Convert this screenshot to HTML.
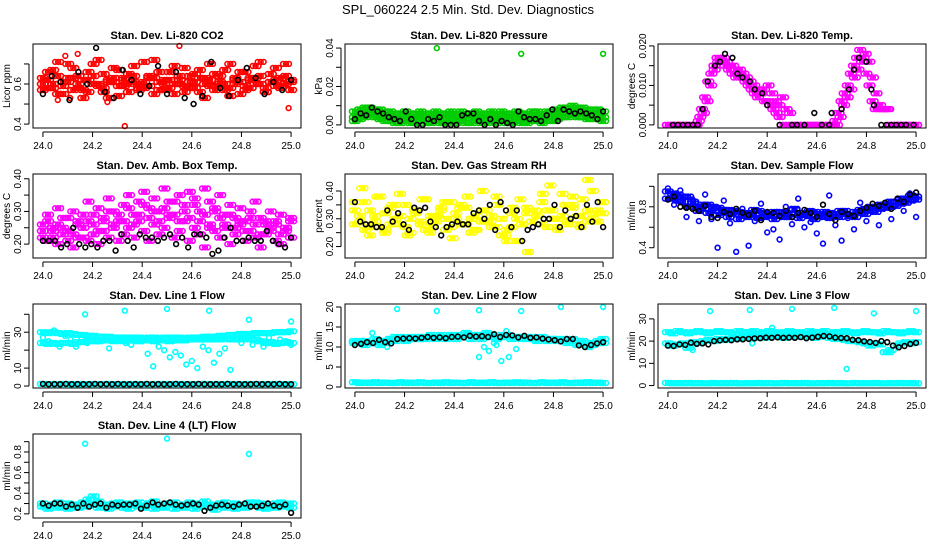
<!DOCTYPE html>
<html><head><meta charset="utf-8"><style>
html,body{margin:0;padding:0;background:#fff}
svg{display:block;font-family:"Liberation Sans",sans-serif}
</style></head><body>
<svg id="chart" width="936" height="540" viewBox="0 0 936 540" xmlns="http://www.w3.org/2000/svg">
<rect width="936" height="540" fill="#fff"/>
<text x="468" y="14" text-anchor="middle" font-size="13">SPL_060224  2.5 Min. Std. Dev. Diagnostics</text>
</svg>
<script>
// ---- data ----
const co2Red1=[0.63,0.58,0.67,0.55,0.61,0.70,0.57,0.64,0.53,0.66,0.60,0.72,0.56,0.62,0.68,0.54,0.59,0.65,0.61,0.57,0.71,0.63,0.55,0.66,0.60,0.58,0.69,0.62,0.56,0.64,0.61,0.67,0.53,0.59,0.65,0.60,0.57,0.70,0.62,0.55,0.66,0.58,0.63,0.71,0.56,0.61,0.68,0.59,0.64,0.57];
const co2Red2=[0.57,0.66,0.60,0.71,0.55,0.63,0.68,0.58,0.62,0.56,0.70,0.59,0.65,0.53,0.61,0.67,0.63,0.56,0.69,0.60,0.58,0.64,0.72,0.57,0.62,0.66,0.55,0.60,0.68,0.58,0.65,0.56,0.63,0.70,0.59,0.61,0.67,0.54,0.60,0.66,0.57,0.63,0.69,0.60,0.56,0.65,0.62,0.58,0.70,0.61];
const co2Red3=[0.60,0.62,0.58,0.64,0.59,0.61,0.63,0.60,0.57,0.62,0.64,0.60,0.58,0.61,0.63,0.59,0.62,0.60,0.64,0.58,0.61,0.59,0.63,0.61,0.57,0.62,0.60,0.64,0.59,0.61,0.58,0.63,0.60,0.62,0.57,0.64,0.60,0.58,0.63,0.61,0.59,0.62,0.60,0.64,0.58,0.61,0.59,0.63,0.60,0.62];
const co2OutX=[24.33,24.55,24.99,24.06,24.11,24.26,24.09,24.14];
const co2OutY=[0.39,0.79,0.48,0.52,0.53,0.51,0.74,0.75];
const co2Black=[0.55,0.64,0.61,0.52,0.66,0.60,0.78,0.56,0.53,0.67,0.62,0.55,0.59,0.69,0.55,0.66,0.53,0.50,0.54,0.71,0.58,0.54,0.62,0.68,0.63,0.55,0.61,0.57,0.62];

const presG1=[0.007,0.008,0.009,0.009,0.008,0.008,0.007,0.007,0.006,0.006,0.007,0.006,0.006,0.007,0.006,0.006,0.007,0.006,0.006,0.007,0.006,0.007,0.006,0.006,0.007,0.006,0.006,0.007,0.006,0.007,0.006,0.006,0.007,0.006,0.006,0.007,0.007,0.006,0.007,0.007,0.008,0.009,0.009,0.010,0.009,0.009,0.008,0.008,0.008,0.007];
const presG2=[0.004,0.005,0.006,0.007,0.006,0.005,0.004,0.004,0.003,0.003,0.004,0.003,0.003,0.004,0.003,0.003,0.004,0.003,0.003,0.004,0.003,0.004,0.003,0.003,0.004,0.003,0.003,0.004,0.003,0.004,0.003,0.003,0.004,0.003,0.003,0.004,0.004,0.003,0.004,0.004,0.005,0.006,0.006,0.007,0.006,0.006,0.005,0.005,0.005,0.004];
const presG3=[0.002,0.003,0.004,0.005,0.004,0.003,0.002,0.002,0.001,0.001,0.002,0.001,0.001,0.002,0.001,0.001,0.002,0.001,0.001,0.002,0.001,0.002,0.001,0.001,0.002,0.001,0.001,0.002,0.001,0.002,0.001,0.001,0.002,0.001,0.001,0.002,0.002,0.001,0.002,0.002,0.003,0.004,0.004,0.005,0.004,0.004,0.003,0.003,0.003,0.002];
const presOutX=[24.33,24.67,25.0];
const presOutY=[0.040,0.037,0.037];
const presBlack=[0.003,0.006,0.005,0.009,0.007,0.006,0.004,0.003,0.002,0.007,0.003,0.000,0.000,0.003,0.002,0.004,0.000,0.000,0.000,0.005,0.006,0.006,0.002,0.000,0.003,0.000,0.002,0.001,0.000,0.007,0.004,0.003,0.003,0.002,0.005,0.008,0.002,0.008,0.007,0.006,0.007,0.006,0.005,0.003,0.007];

const tempMag=[0,0,0,0,0,0,0,0,0,0,0.001,0.004,0.007,0.011,0.013,0.015,0.017,0.016,0.017,0.016,0.015,0.015,0.014,0.013,0.012,0.011,0.010,0.009,0.008,0.007,0.008,0.009,0.006,0.005,0.004,0.003,0.002,0,0,0,0,0,0,0,0,0,0,0,0,0,0,0,0,0,0.001,0.003,0.006,0.008,0.010,0.013,0.015,0.017,0.019,0.017,0.013,0.010,0.006,0.004,0.004,0.004,0.004,0.004,0,0,0,0,0,0,0,0,0];
const tempMag2=[0,0,0,0,0,0,0,0,0,0.002,0.003,0.006,0.010,0.014,0.016,0.016,0.015,0.014,0.013,0.012,0.014,0.013,0.012,0.011,0.010,0.009,0.008,0.006,0.010,0.008,0.006,0.005,0.007,0.004,0.003,0,0,0,0,0,0,0,0,0,0,0,0,0,0.002,0.005,0.007,0.009,0.012,0.014,0.016,0.018,0.016,0.012,0.008,0.005,0.004,0.004,0,0,0,0,0,0,0,0];
const tempBlackX=[24.02,24.04,24.06,24.08,24.10,24.12,24.14,24.16,24.19,24.21,24.23,24.26,24.28,24.30,24.33,24.35,24.38,24.40,24.45,24.50,24.52,24.55,24.59,24.62,24.65,24.66,24.70,24.73,24.75,24.77,24.80,24.82,24.83,24.86,24.88,24.90,24.92,24.94,24.96,24.99];
const tempBlackY=[0,0,0,0,0,0,0.004,0.011,0.015,0.016,0.018,0.017,0.013,0.012,0.011,0.009,0.008,0.005,0,0,0,0,0.003,0,0,0.003,0.004,0.009,0.014,0.017,0.016,0.009,0.005,0,0,0,0,0,0,0];

const ambUp=[0.26,0.29,0.25,0.31,0.28,0.24,0.30,0.27,0.29,0.33,0.26,0.31,0.28,0.34,0.30,0.27,0.32,0.35,0.29,0.33,0.36,0.31,0.34,0.30,0.37,0.33,0.29,0.35,0.32,0.36,0.34,0.30,0.37,0.33,0.31,0.35,0.29,0.32,0.28,0.31,0.27,0.30,0.33,0.28,0.26,0.30,0.27,0.29,0.25,0.28];
const ambMid=[0.24,0.27,0.22,0.26,0.25,0.28,0.23,0.26,0.22,0.27,0.29,0.24,0.27,0.30,0.25,0.29,0.27,0.31,0.26,0.29,0.32,0.28,0.30,0.27,0.31,0.29,0.33,0.27,0.30,0.28,0.32,0.27,0.29,0.25,0.30,0.28,0.26,0.29,0.25,0.27,0.24,0.28,0.26,0.23,0.27,0.24,0.26,0.23,0.25,0.27];
const ambLow=[0.22,0.21,0.24,0.20,0.23,0.21,0.19,0.22,0.25,0.21,0.23,0.20,0.24,0.22,0.26,0.21,0.23,0.25,0.22,0.27,0.24,0.21,0.26,0.23,0.25,0.28,0.22,0.24,0.27,0.21,0.25,0.23,0.19,0.26,0.24,0.22,0.25,0.20,0.23,0.26,0.21,0.24,0.22,0.19,0.23,0.25,0.21,0.20,0.24,0.22];
const ambBlack=[0.21,0.21,0.21,0.19,0.20,0.25,0.20,0.19,0.20,0.19,0.21,0.21,0.18,0.23,0.21,0.19,0.23,0.22,0.22,0.21,0.22,0.23,0.20,0.22,0.19,0.23,0.23,0.22,0.17,0.18,0.22,0.25,0.21,0.21,0.22,0.21,0.21,0.24,0.21,0.20,0.19,0.22];

const rhY1=[0.33,0.29,0.36,0.27,0.31,0.38,0.26,0.34,0.30,0.28,0.35,0.25,0.32,0.29,0.37,0.27,0.31,0.33,0.26,0.36,0.30,0.28,0.34,0.25,0.31,0.29,0.33,0.27,0.38,0.30,0.26,0.32,0.22,0.28,0.34,0.29,0.31,0.36,0.27,0.33,0.30,0.39,0.28,0.35,0.31,0.37,0.29,0.40,0.33,0.36];
const rhY2=[0.28,0.31,0.26,0.33,0.29,0.27,0.32,0.28,0.35,0.31,0.27,0.30,0.33,0.28,0.26,0.31,0.29,0.34,0.30,0.27,0.32,0.35,0.28,0.30,0.26,0.33,0.29,0.31,0.27,0.24,0.22,0.27,0.30,0.28,0.32,0.29,0.31,0.28,0.33,0.30,0.27,0.31,0.29,0.34,0.28,0.31,0.33,0.30,0.29,0.32];
const rhY3=[0.36,0.41,0.24,0.38,0.25,0.35,0.39,0.24,0.33,0.37,0.25,0.31,0.36,0.23,0.34,0.38,0.26,0.40,0.29,0.35,0.24,0.34,0.37,0.18,0.33,0.39,0.42,0.26,0.35,0.38,0.27,0.44,0.32,0.36];
const rhBlack=[0.36,0.29,0.28,0.28,0.27,0.27,0.33,0.29,0.32,0.28,0.26,0.34,0.33,0.34,0.29,0.27,0.24,0.27,0.28,0.29,0.28,0.28,0.32,0.33,0.30,0.35,0.26,0.36,0.33,0.27,0.33,0.22,0.26,0.27,0.28,0.30,0.30,0.35,0.27,0.33,0.30,0.31,0.27,0.35,0.29,0.36,0.27];

const flowB1=[0.95,0.88,0.92,0.85,0.90,0.83,0.80,0.78,0.82,0.76,0.79,0.74,0.77,0.73,0.75,0.71,0.74,0.72,0.76,0.70,0.73,0.75,0.71,0.74,0.70,0.77,0.72,0.74,0.71,0.75,0.73,0.70,0.74,0.72,0.76,0.73,0.71,0.75,0.74,0.78,0.76,0.80,0.78,0.82,0.80,0.85,0.83,0.88,0.86,0.90];
const flowB2=[0.88,0.93,0.86,0.90,0.80,0.85,0.76,0.82,0.74,0.80,0.72,0.77,0.70,0.76,0.68,0.73,0.70,0.77,0.69,0.74,0.71,0.68,0.75,0.70,0.73,0.78,0.69,0.72,0.76,0.68,0.71,0.75,0.69,0.73,0.70,0.76,0.72,0.70,0.77,0.73,0.80,0.75,0.82,0.79,0.85,0.81,0.88,0.84,0.91,0.87];
const flowB3=[0.98,0.82,0.96,0.70,0.87,0.66,0.92,0.68,0.40,0.86,0.64,0.36,0.78,0.42,0.66,0.83,0.55,0.58,0.48,0.80,0.63,0.88,0.60,0.65,0.54,0.44,0.91,0.62,0.47,0.69,0.58,0.84,0.66,0.79,0.62,0.81,0.68,0.87,0.76,0.93,0.70];
const flowBlack=[0.87,0.90,0.80,0.79,0.78,0.76,0.81,0.70,0.69,0.75,0.73,0.78,0.74,0.72,0.76,0.67,0.75,0.74,0.71,0.76,0.70,0.74,0.77,0.74,0.70,0.82,0.73,0.67,0.75,0.73,0.71,0.76,0.79,0.83,0.81,0.84,0.78,0.88,0.85,0.92,0.94];

const baseOnes=[1.2,1,1.1,1,1.2,1,1.1,1,1,1.2,1,1.1,1,1.2,1,1,1.1,1,1.2,1,1.1,1,1,1.2,1,1.1,1,1.2,1,1,1.1,1,1.2,1,1.1,1,1,1.2,1,1.1,1,1.2,1,1,1.1,1,1.2,1,1.1,1];
const outTimes=[24.17,24.33,24.5,24.67,24.83,25.0];

const l1Top=[30,29.5,30,29.5,29,29.5,29,28.5,28.5,28,28,27.5,27.5,27.5,27,27,27,27,27,27,26.5,27,27,26.5,27,27,27,27,26.5,27,27,27,27.5,27.5,27.5,28,28,28.5,28.5,29,29,29,29.5,29.5,29.5,29.5,30,30,30,30.5];
const l1Low=[24,23.5,24,23.5,24,24,23.5,24.5,24.5,25,25,25,25.5,25.5,25,25.5,25,25.5,25.5,25,25.5,25.5,25,25.5,25.5,25,25.5,25.5,25.5,26,26,26,26,26,26,26,26.5,26,26,26,26.5,26,26,25,24,24.5,23.5,24,24.5,24];
const l1Scatter=[27,25,31,22,28,26,22,27,24,28,25,27,21,26,27,24,23,27,25,18,11,22,20,16,19,17,12,14,10,22,20,13,18,21,9,26,24,28,23,25,22,27,24,26,25,23];
const l1OutY=[40,42,43,42,37,36];

const l2Band1=[11.5,11,11.5,11,12,11.5,11,12,12.5,12,12,12.5,12,12.5,12.5,12.5,12.5,13,12.5,12.5,13,12.5,13,13,12.5,13,12.5,13,12.5,13,12.5,12.5,12.5,12.5,12,12.5,12,12,12,12,11.5,12,11.5,11.5,11,11,10.5,11,11.5,11];
const l2Band2=[11,11.5,10.5,11,11,10.5,11.5,12,11.5,12.5,11.5,12,12.5,12,12,13,12,12.5,12,13,12,12.5,13.5,12,13,12,13.5,12.5,12,12.5,13,12,12.5,12,12.5,12,11.5,12.5,11.5,12,12,11.5,11,12,10.5,11.5,10,10.5,11,12];
const l2LowX=[24.5,24.52,24.54,24.56,24.57,24.59,24.61,24.62,24.65,24.07,24.13];
const l2LowY=[7.5,10,9,11,10.5,6.5,14,7.5,9.5,13.5,10];
const l2OutY=[19.5,19,19.2,19,20,20];
const l2Black=[10.5,10.8,11.2,11,11.8,11.2,10.9,12,12.1,12.2,12.1,12.3,12.5,12.3,12.4,12.2,12.5,12.6,12.4,12.8,12.6,12.7,12.5,13.2,12.5,13,12.9,12.4,12.8,12.3,12.4,12.1,11.9,11.7,11.4,12,12,10.4,10,10.5,10.9,11.2];

const l3Top=[24,23.5,24.5,24,23.5,24,24.5,24,23.5,24,24.5,24,24,23.5,24.5,24,24,24.5,23.5,24,24.5,24,23.5,24,24.5,24,24,23.5,24.5,24,24,24.5,23.5,24,24,24.5,24,23.5,24,24.5,24,24,23.5,24.5,24,24,23.5,24,24.5,24];
const l3Low=[19,18,18.5,19,17,19.5,19,20,20.5,20,21,20.5,21,21.5,21,21.5,22,21.5,22,21.5,22,22.5,22,21.5,22,22.5,22,22.5,22,21.5,22,22.5,21.5,21,21,20.5,20,20,19.5,19,18,19,18.5,15,16,18,19,19.5,19,19.5];
const l3OutX=[24.17,24.33,24.5,24.67,24.83,25.0,24.72,24.42,24.9,24.1,24.34];
const l3OutY=[33.5,34,34.5,35,32.5,33.5,7.5,26,15,16,19];
const l3Black=[18,17.8,18.5,18.3,19.3,18.8,19,18.5,20,20.3,20.6,20.4,20.8,20.8,21,21.2,21.3,21.6,21.5,21.7,21.5,21.6,21.5,21.8,21.3,21.6,22,22.3,22.1,21.6,21.4,21.3,20.6,20.4,19.9,19.6,19.2,20,19.5,18,17.2,17.8,18.7,19.2];

const l4Band1=[0.30,0.27,0.29,0.31,0.28,0.30,0.27,0.29,0.31,0.28,0.30,0.32,0.29,0.27,0.30,0.31,0.28,0.30,0.29,0.31,0.28,0.30,0.32,0.29,0.27,0.30,0.31,0.28,0.29,0.31,0.30,0.28,0.32,0.29,0.27,0.30,0.31,0.28,0.30,0.29,0.27,0.31,0.28,0.30,0.29,0.27,0.30,0.31,0.28,0.30];
const l4Band2=[0.27,0.25,0.28,0.26,0.27,0.25,0.29,0.26,0.27,0.34,0.37,0.26,0.28,0.25,0.27,0.29,0.26,0.25,0.28,0.27,0.26,0.28,0.25,0.27,0.26,0.29,0.25,0.27,0.26,0.28,0.25,0.27,0.29,0.26,0.24,0.27,0.26,0.28,0.25,0.27,0.26,0.28,0.31,0.26,0.25,0.27,0.26,0.28,0.27,0.26];
const l4OutX=[24.17,24.5,24.83];
const l4OutY=[0.88,0.93,0.78];
const l4Black=[0.30,0.28,0.30,0.30,0.27,0.29,0.26,0.30,0.27,0.29,0.30,0.26,0.29,0.28,0.29,0.29,0.30,0.25,0.28,0.31,0.29,0.30,0.31,0.29,0.28,0.29,0.30,0.29,0.23,0.26,0.28,0.29,0.28,0.27,0.29,0.30,0.27,0.27,0.28,0.30,0.28,0.27,0.29,0.21];

const xTicks=[24.0,24.2,24.4,24.6,24.8,25.0];
const xTickLabels=["24.0","24.2","24.4","24.6","24.8","25.0"];

// ---- drawing ----
const NS="http://www.w3.org/2000/svg";
const svg=document.getElementById('chart');
const COLS=[33,345,658], ROWS=[44,174,304,434], PW=268, PH=84;
// marker glyph: dense bands drawn as a small horizontal cluster of rings (style only)
const CLUSTER=[-3,0,3];
function mk(tag,attrs,parent){const e=document.createElementNS(NS,tag);for(const k in attrs)e.setAttribute(k,attrs[k]);(parent||svg).appendChild(e);return e;}
function even(n){const a=[];for(let i=0;i<n;i++)a.push(24.0+(n>1?i/(n-1):0));return a;}

function panel(p){
  const L=COLS[p.col],T=ROWS[p.row];
  const g=mk('g',{});
  
  
  const pad=0.04;
  const fx=v=>L+PW*pad/(1+2*pad)+ (PW/(1+2*pad))*(v-24);
  const fy=v=>T+PH-PH*pad/(1+2*pad)-(PH/(1+2*pad))*(v-p.ylim[0])/(p.ylim[1]-p.ylim[0]);
  p.series.forEach(s=>{
    const sg=mk('g',{fill:'none',stroke:s.c,'stroke-width':1.6},g);
    
    
    const X=s.x||even(s.y.length);
    const offs=(s.single||s.c==='#000')?[0]:CLUSTER;
    for(let i=0;i<s.y.length;i++){
      const cx=fx(X[i]), cy=fy(s.y[i]);
      offs.forEach(o=>{
        const c=mk('circle',{cx:(cx+o).toFixed(1),cy:cy.toFixed(1),r:2.4},sg);
        
        
      });
    }
  });
  const b=mk('rect',{x:L,y:T,width:PW,height:PH,fill:'none',stroke:'#000','stroke-width':1},g);
  
  
  const xa=mk('g',{},g);
  
  
  const by=T+PH;
  mk('line',{x1:fx(24),x2:fx(25),y1:by+4,y2:by+4,stroke:'#000'},xa);
  xTicks.forEach((v,i)=>{
    mk('line',{x1:fx(v),x2:fx(v),y1:by+4,y2:by+9,stroke:'#000'},xa);
    const t=mk('text',{x:fx(v),y:by+21,'text-anchor':'middle','font-size':10},xa);
    t.textContent=xTickLabels[i];
    
    
  });
  const ya=mk('g',{},g);
  
  
  const ax=L-4;
  mk('line',{x1:ax,x2:ax,y1:fy(p.yt[0]),y2:fy(p.yt[p.yt.length-1]),stroke:'#000'},ya);
  p.yt.forEach(v=>{mk('line',{x1:ax-5,x2:ax,y1:fy(v),y2:fy(v),stroke:'#000'},ya);});
  p.yl.forEach((v,i)=>{
    const yy=fy(v),xx=L-12;
    const t=mk('text',{x:xx,y:yy,'text-anchor':'middle','font-size':10,transform:`rotate(-90 ${xx} ${yy})`},ya);
    t.textContent=p.ylt[i];
    
    
  });
  const yt=mk('text',{x:L-23,y:T+PH/2,'text-anchor':'middle','font-size':10,transform:`rotate(-90 ${L-23} ${T+PH/2})`},g);
  yt.textContent=p.ylab;
  
  
  const tt=mk('text',{x:L+PW/2,y:T-5,'text-anchor':'middle','font-size':11,'font-weight':'bold'},g);
  tt.textContent=p.title;
  
  
}

panel({name:'co2',col:0,row:0,title:'Stan. Dev. Li-820 CO2',ylab:'Licor ppm',ylim:[0.396,0.784],yt:[0.4,0.5,0.6,0.7],yl:[0.4,0.6],ylt:['0.4','0.6'],
 series:[{n:'co2-red-a',c:'#ff0000',y:co2Red1},{n:'co2-red-b',c:'#ff0000',y:co2Red2},{n:'co2-red-c',c:'#ff0000',y:co2Red3},{n:'co2-red-outliers',c:'#ff0000',single:true,x:co2OutX,y:co2OutY},{n:'co2-black',c:'#000',y:co2Black}]});
panel({name:'pressure',col:1,row:0,title:'Stan. Dev. Li-820 Pressure',ylab:'kPa',ylim:[0,0.0405],yt:[0,0.01,0.02,0.03,0.04],yl:[0,0.02,0.04],ylt:['0.00','0.02','0.04'],
 series:[{n:'pressure-green-a',c:'#00cc00',y:presG1},{n:'pressure-green-b',c:'#00cc00',y:presG2},{n:'pressure-green-c',c:'#00cc00',y:presG3},{n:'pressure-green-outliers',c:'#00cc00',single:true,x:presOutX,y:presOutY},{n:'pressure-black',c:'#000',y:presBlack}]});
panel({name:'li820-temp',col:2,row:0,title:'Stan. Dev. Li-820 Temp.',ylab:'degrees C',ylim:[0,0.0197],yt:[0,0.005,0.01,0.015,0.02],yl:[0,0.01,0.02],ylt:['0.000','0.010','0.020'],
 series:[{n:'temp-magenta-a',c:'#ff00ff',y:tempMag},{n:'temp-magenta-b',c:'#ff00ff',y:tempMag2},{n:'temp-black',c:'#000',x:tempBlackX,y:tempBlackY}]});
panel({name:'amb-box-temp',col:0,row:1,title:'Stan. Dev. Amb. Box Temp.',ylab:'degrees C',ylim:[0.167,0.405],yt:[0.2,0.25,0.3,0.35,0.4],yl:[0.2,0.3,0.4],ylt:['0.20','0.30','0.40'],
 series:[{n:'amb-magenta-up',c:'#ff00ff',y:ambUp},{n:'amb-magenta-mid',c:'#ff00ff',y:ambMid},{n:'amb-magenta-low',c:'#ff00ff',y:ambLow},{n:'amb-black',c:'#000',y:ambBlack}]});
panel({name:'gas-rh',col:1,row:1,title:'Stan. Dev. Gas Stream RH',ylab:'percent',ylim:[0.17,0.45],yt:[0.2,0.25,0.3,0.35,0.4],yl:[0.2,0.3,0.4],ylt:['0.20','0.30','0.40'],
 series:[{n:'rh-yellow-a',c:'#ffff00',y:rhY1},{n:'rh-yellow-b',c:'#ffff00',y:rhY2},{n:'rh-yellow-c',c:'#ffff00',y:rhY3},{n:'rh-black',c:'#000',y:rhBlack}]});
panel({name:'sample-flow',col:2,row:1,title:'Stan. Dev. Sample Flow',ylab:'ml/min',ylim:[0.33,1.09],yt:[0.4,0.6,0.8,1.0],yl:[0.4,0.8],ylt:['0.4','0.8'],
 series:[{n:'flow-blue-a',c:'#0000ff',y:flowB1},{n:'flow-blue-b',c:'#0000ff',y:flowB2},{n:'flow-blue-c',c:'#0000ff',single:true,y:flowB3},{n:'flow-black',c:'#000',y:flowBlack}]});
panel({name:'line1-flow',col:0,row:2,title:'Stan. Dev. Line 1 Flow',ylab:'ml/min',ylim:[0.64,44],yt:[0,10,20,30,40],yl:[0,10,30],ylt:['0','10','30'],
 series:[{n:'line1-cyan-top',c:'#00ffff',y:l1Top},{n:'line1-cyan-low',c:'#00ffff',y:l1Low},{n:'line1-cyan-scatter',c:'#00ffff',single:true,y:l1Scatter},{n:'line1-cyan-outliers',c:'#00ffff',single:true,x:outTimes,y:l1OutY},{n:'line1-cyan-base',c:'#00ffff',y:baseOnes},{n:'line1-black',c:'#000',y:baseOnes.slice(0,44)}]});
panel({name:'line2-flow',col:1,row:2,title:'Stan. Dev. Line 2 Flow',ylab:'ml/min',ylim:[0.53,19.97],yt:[0,5,10,15,20],yl:[0,5,10,15,20],ylt:['0','5','10','15','20'],
 series:[{n:'line2-cyan-a',c:'#00ffff',y:l2Band1},{n:'line2-cyan-b',c:'#00ffff',y:l2Band2},{n:'line2-cyan-low',c:'#00ffff',single:true,x:l2LowX,y:l2LowY},{n:'line2-cyan-outliers',c:'#00ffff',single:true,x:outTimes,y:l2OutY},{n:'line2-cyan-base',c:'#00ffff',y:baseOnes},{n:'line2-black',c:'#000',y:l2Black}]});
panel({name:'line3-flow',col:2,row:2,title:'Stan. Dev. Line 3 Flow',ylab:'ml/min',ylim:[0.3,35.3],yt:[0,10,20,30],yl:[0,10,20,30],ylt:['0','10','20','30'],
 series:[{n:'line3-cyan-top',c:'#00ffff',y:l3Top},{n:'line3-cyan-low',c:'#00ffff',y:l3Low},{n:'line3-cyan-outliers',c:'#00ffff',single:true,x:l3OutX,y:l3OutY},{n:'line3-cyan-base',c:'#00ffff',y:baseOnes},{n:'line3-black',c:'#000',y:l3Black}]});
panel({name:'line4-flow',col:0,row:3,title:'Stan. Dev. Line 4 (LT) Flow',ylab:'ml/min',ylim:[0.19,0.944],yt:[0.2,0.3,0.4,0.5,0.6,0.7,0.8,0.9],yl:[0.2,0.4,0.6,0.8],ylt:['0.2','0.4','0.6','0.8'],
 series:[{n:'line4-cyan-a',c:'#00ffff',y:l4Band1},{n:'line4-cyan-b',c:'#00ffff',y:l4Band2},{n:'line4-cyan-outliers',c:'#00ffff',single:true,x:l4OutX,y:l4OutY},{n:'line4-black',c:'#000',y:l4Black}]});
</script>
</body></html>
